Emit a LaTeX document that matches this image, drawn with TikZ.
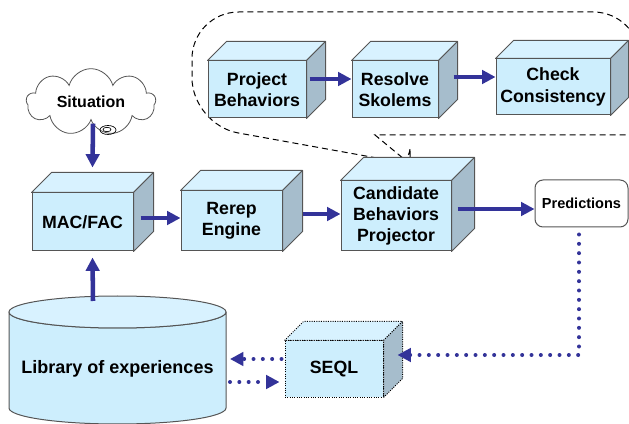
\documentclass[tikz,border=0pt]{standalone}
\usepackage{fontspec}
\setmainfont{Liberation Sans}
\usetikzlibrary{arrows.meta}
\usetikzlibrary{shapes.symbols}

\definecolor{cubefront}{RGB}{205,238,253}
\definecolor{cubetop}{RGB}{216,242,255}
\definecolor{cubeside}{RGB}{166,189,204}
\definecolor{cubeline}{RGB}{85,85,85}
\definecolor{flowc}{RGB}{51,51,153}

\tikzset{
  cube/.style={draw=cubeline,fill=cubefront,line width=0.75pt,align=center,inner sep=0pt,
    font=\bfseries\fontsize{13.3}{16}\selectfont},
  face/.style={draw=cubeline,line width=0.75pt,line join=round},
  flow/.style={flowc,line width=3.4pt,-{Triangle[length=10pt,width=10pt]}},
  dotflow/.style={flowc,line width=3pt,line cap=round,dash pattern=on 0pt off 7pt,
    -{Triangle[length=10pt,width=10pt]}},
  callout/.style={line width=0.75pt,dash pattern=on 4.5pt off 3pt}
}

% top and right faces of a box node: #2 name, #3 depth
\newcommand{\cubefaces}[3][]{%
  \draw[face,fill=cubetop,#1] (#2.north west) -- ([shift={(#3,-#3)}]#2.north west)
    -- ([shift={(#3,-#3)}]#2.north east) -- (#2.north east) -- cycle;
  \draw[face,fill=cubeside,#1] (#2.north east) -- ([shift={(#3,-#3)}]#2.north east)
    -- ([shift={(#3,-#3)}]#2.south east) -- (#2.south east) -- cycle;}

\begin{document}
\begin{tikzpicture}[x=0.75pt,y=-0.75pt]
  \useasboundingbox (0,0) rectangle (629,424);

  % callout round the three sub steps
  \draw[callout] (410,164) -- (375,135) -- (640,135) [rounded corners=35] -- (640,12)
    -- (192,12) -- (192,124.6) [rounded corners=12] -- (410,164) [sharp corners] -- cycle;

  % library of experiences
  \draw[face,fill=cubefront] (9,312) -- (9,408) arc[start angle=180,end angle=0,x radius=108.5,y radius=16]
    -- (226,312) arc[start angle=0,end angle=180,x radius=108.5,y radius=16] -- cycle;
  \draw[face,fill=cubetop] (117.5,312) ellipse[x radius=108.5,y radius=16];
  \node[font=\bfseries\fontsize{13.5}{16}\selectfont] (lib) at (117.5,369) {Library of experiences};
  \coordinate (libtop) at (93,301);
  \coordinate (libin) at (230,359);
  \coordinate (libout) at (230,382);

  % situation
  \node[cloud,draw=cubeline,line width=0.6pt,cloud puffs=9,cloud ignores aspect,
    minimum width=97pt,minimum height=50pt,inner sep=0pt,
    font=\bfseries\fontsize{12}{14}\selectfont] (sit) at (91,102) {Situation};
  \draw[line width=0.5pt] (108,130) ellipse[x radius=8,y radius=4.5];
  \draw[line width=0.5pt] (107,129.5) ellipse[x radius=4,y radius=2.2];

  % boxes
  \node[cube,minimum width=75.75pt,minimum height=43.5pt] (macfac) at (82.5,222) {MAC/FAC};
  \node[cube,minimum width=75.75pt,minimum height=45pt] (rerep) at (231.5,221) {Rerep\\Engine};
  \node[cube,minimum width=82.5pt,minimum height=52.5pt] (cand) at (396,216) {Candidate\\Behaviors\\Projector};
  \node[cube,minimum width=73.5pt,minimum height=42.75pt] (proj) at (257,89.5) {Project\\Behaviors};
  \node[cube,minimum width=64.5pt,minimum height=42.75pt] (resolve) at (395,89.5) {Resolve\\Skolems};
  \node[cube,minimum width=85.5pt,minimum height=42pt] (check) at (553,87) {Check\\Consistency};
  \node[cube,draw=black,densely dotted,minimum width=73.5pt,minimum height=42pt] (seql) at (334,369) {SEQL};
  \node[draw=cubeline,line width=0.75pt,rounded corners=6pt,minimum width=69.75pt,minimum height=35.25pt,
    font=\bfseries\fontsize{10.9}{13}\selectfont] (pred) at (581.5,203.5) {Predictions};

  \foreach \n/\d in {macfac/20,rerep/20,cand/23,proj/19,resolve/19,check/18}
    \cubefaces{\n}{\d};
  \cubefaces[draw=black,densely dotted]{seql}{19}

  % connectors
  \draw[flow] ([shift={(2,3)}]sit.south) -- ([shift={(10,-25)}]macfac.north);
  \draw[flow] (libtop) -- ([shift={(10,6)}]macfac.south);
  \draw[flow] ([shift={(7,-4)}]macfac.east) -- ([shift={(0,-3)}]rerep.west);
  \draw[flow] ([shift={(20,-7)}]rerep.east) -- ([shift={(0,-2)}]cand.west);
  \draw[flow] ([shift={(6,-7)}]cand.east) -- ([shift={(0,5.5)}]pred.west);
  \draw[flow] ([shift={(3,-10.5)}]proj.east) -- ([shift={(0,-10.5)}]resolve.west);
  \draw[flow] ([shift={(15,-12.5)}]resolve.east) -- ([shift={(0,-10)}]check.west);
  \draw[dotflow] ([shift={(-2.5,7)}]pred.south) |- ([shift={(14,-14)}]seql.east);
  \draw[dotflow] ([shift={(-3,-10)}]seql.west) -- (libin);
  \draw[dotflow] (libout) -- ([shift={(-5,13)}]seql.west);
\end{tikzpicture}
\end{document}
